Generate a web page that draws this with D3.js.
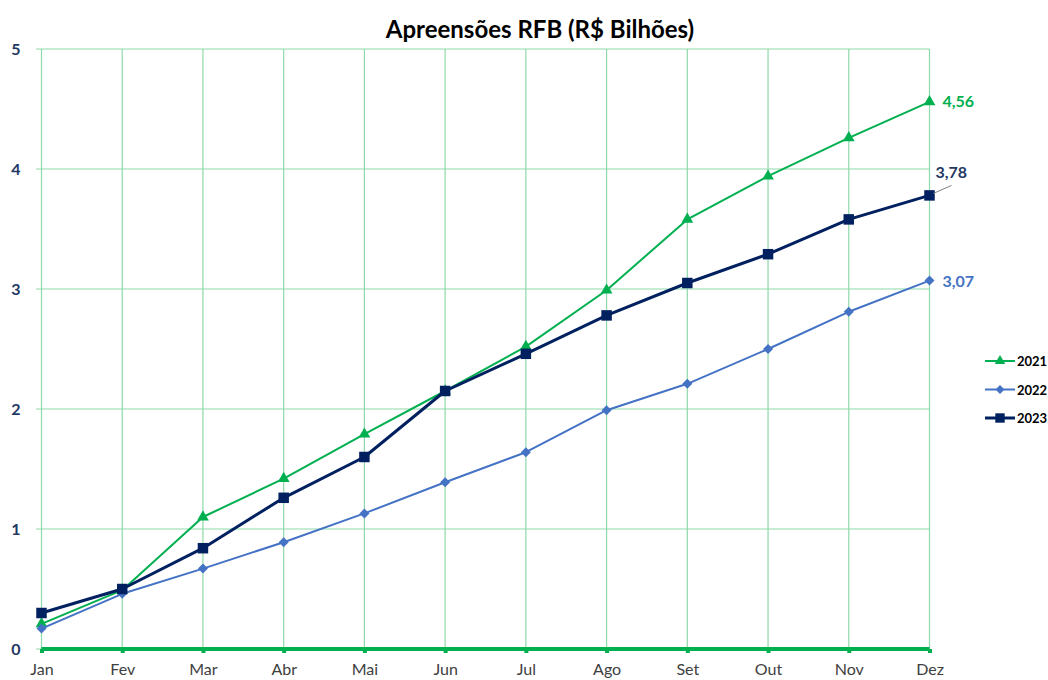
<!DOCTYPE html>
<html>
<head>
<meta charset="utf-8">
<script src="https://cdn.jsdelivr.net/npm/d3@7"></script>
<style>
  body { margin: 0; background: #fff; }
  text { font-family: Lato, "Open Sans", sans-serif; }
</style>
</head>
<body>
<div id="vis"></div>
<script>
// data
const months = ["Jan","Fev","Mar","Abr","Mai","Jun","Jul","Ago","Set","Out","Nov","Dez"];
const values2021 = [0.21,0.49,1.10,1.42,1.79,2.15,2.52,2.99,3.58,3.94,4.26,4.56];
const values2022 = [0.17,0.46,0.67,0.89,1.13,1.39,1.64,1.99,2.21,2.50,2.81,3.07];
const values2023 = [0.30,0.50,0.84,1.26,1.60,2.15,2.46,2.78,3.05,3.29,3.58,3.78];
const yTicks = [0,1,2,3,4,5];

const series = [
  { name: "2021", values: values2021, color: "#00B050", width: 2, symbol: d3.symbolTriangle, size: 60, rot: 0 },
  { name: "2022", values: values2022, color: "#4472C4", width: 2, symbol: d3.symbolSquare, size: 50, rot: 45 },
  { name: "2023", values: values2023, color: "#002060", width: 3, symbol: d3.symbolSquare, size: 110, rot: 0 }
];

const width = 1048, height = 680;

const x = d3.scalePoint().domain(months).range([41.5, 929.5]);
const y = d3.scaleLinear().domain([0, 5]).range([649, 49]);

const svg = d3.select("#vis").append("svg")
  .attr("width", width)
  .attr("height", height);

// title
svg.append("text")
  .attr("x", 540).attr("y", 38)
  .attr("text-anchor", "middle")
  .attr("font-size", 24).attr("font-weight", "bold")
  .attr("fill", "#000")
  .text("Apreensões RFB (R$ Bilhões)");

// grid
svg.append("g")
  .selectAll("line")
  .data(yTicks)
  .join("line")
    .attr("x1", 36).attr("x2", x("Dez"))
    .attr("y1", d => y(d)).attr("y2", d => y(d))
    .attr("stroke", "#8ED9AA").attr("stroke-width", 1.2);

svg.append("g")
  .selectAll("line")
  .data(months)
  .join("line")
    .attr("x1", d => x(d)).attr("x2", d => x(d))
    .attr("y1", y(5)).attr("y2", y(0) + 3)
    .attr("stroke", "#8ED9AA").attr("stroke-width", 1.2);

// y labels
svg.append("g")
  .selectAll("text")
  .data(yTicks)
  .join("text")
    .attr("x", 16).attr("y", d => y(d) + 6)
    .attr("text-anchor", "middle")
    .attr("font-size", 16).attr("font-weight", "bold")
    .attr("fill", "#1F3864")
    .text(d => d);

// x axis baseline
const xAxis = d3.axisBottom(x).tickSize(4).tickPadding(11);
const gx = svg.append("g")
  .attr("transform", `translate(0,${y(0)})`)
  .call(xAxis);
gx.select(".domain").attr("stroke", "#00B050").attr("stroke-width", 4).attr("d", `M${x("Jan")},0H${x("Dez")}`);
gx.selectAll(".tick line").attr("stroke", "#00B050").attr("stroke-width", 4);
gx.selectAll(".tick text")
  .attr("font-size", 16).attr("fill", "#404040")
  .attr("font-family", "Lato, 'Open Sans', sans-serif");

// lines
const line = d3.line().x((d, i) => x(months[i])).y(d => y(d));

const sg = svg.append("g")
  .selectAll("g")
  .data(series)
  .join("g");

sg.append("path")
  .attr("d", d => line(d.values))
  .attr("fill", "none")
  .attr("stroke", d => d.color)
  .attr("stroke-width", d => d.width)
  .attr("stroke-linejoin", "round");

sg.each(function(s) {
  d3.select(this).selectAll("path.m")
    .data(s.values)
    .join("path")
      .attr("class", "m")
      .attr("transform", (d, i) => `translate(${x(months[i])},${y(d)}) rotate(${s.rot})`)
      .attr("d", d3.symbol(s.symbol, s.size))
      .attr("fill", s.color);
});

// end labels
const last = months.length - 1;
svg.append("text")
  .attr("x", x("Dez") + 13).attr("y", y(values2021[last]) + 5)
  .attr("font-size", 16).attr("font-weight", "bold").attr("fill", "#00B050")
  .text("4,56");
svg.append("text")
  .attr("x", x("Dez") + 13).attr("y", y(values2022[last]) + 6)
  .attr("font-size", 16).attr("font-weight", "bold").attr("fill", "#4472C4")
  .text("3,07");
svg.append("line")
  .attr("x1", x("Dez") + 4).attr("y1", y(values2023[last]) - 2)
  .attr("x2", x("Dez") + 22).attr("y2", y(values2023[last]) - 10)
  .attr("stroke", "#808080").attr("stroke-width", 1);
svg.append("text")
  .attr("x", x("Dez") + 6).attr("y", y(values2023[last]) - 17)
  .attr("font-size", 16).attr("font-weight", "bold").attr("fill", "#1F3864")
  .text("3,78");

// legend
const legend = svg.append("g").attr("transform", "translate(985,361)");
const li = legend.selectAll("g")
  .data(series)
  .join("g")
    .attr("transform", (d, i) => `translate(0,${i * 28.5})`);
li.append("line")
  .attr("x1", 0).attr("x2", 30)
  .attr("stroke", d => d.color).attr("stroke-width", d => d.width);
li.append("path")
  .attr("transform", d => `translate(15,0) rotate(${d.rot})`)
  .attr("d", d => d3.symbol(d.symbol, d.size * 0.8)())
  .attr("fill", d => d.color);
li.append("text")
  .attr("x", 32).attr("y", 5)
  .attr("font-size", 13).attr("font-weight", "bold").attr("fill", "#000")
  .text(d => d.name);
</script>
</body>
</html>
